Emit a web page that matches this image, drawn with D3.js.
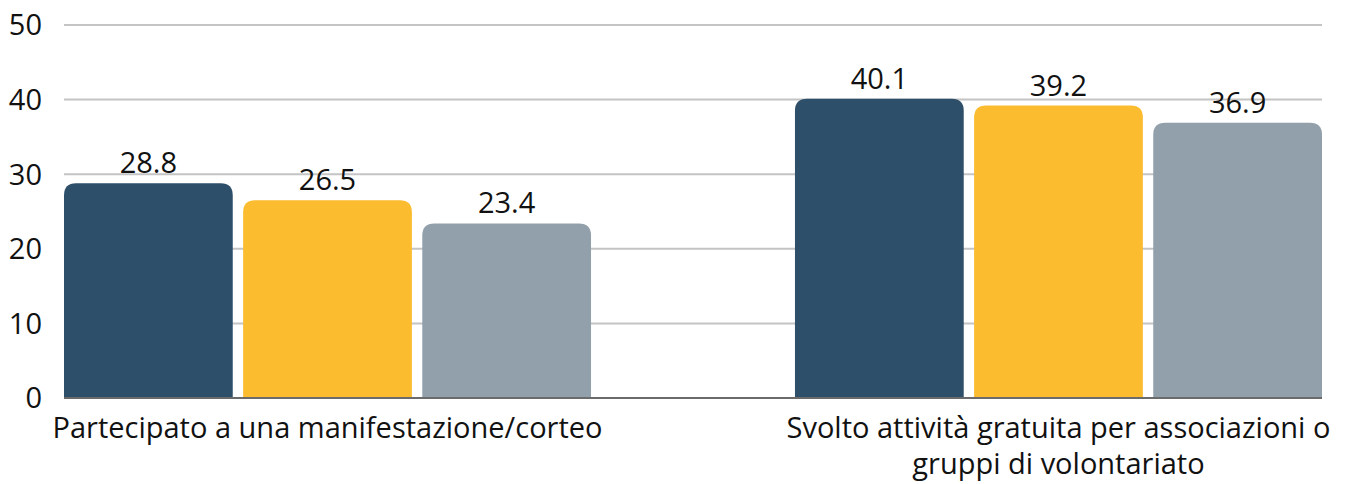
<!DOCTYPE html>
<html>
<head>
<meta charset="utf-8">
<script src="https://cdn.jsdelivr.net/npm/d3@7/dist/d3.min.js"></script>
<style>
  body { margin: 0; background: #fff; }
  text { font-family: "Open Sans", "Noto Sans", sans-serif; fill: #111; }
</style>
</head>
<body>
<div id="chart"></div>
<script>
const categories = [
  ['Partecipato a una manifestazione/corteo'],
  ['Svolto attività gratuita per associazioni o', 'gruppi di volontariato']
];
const seriesNames = ['s1', 's2', 's3'];
const seriesValues = [
  [28.8, 26.5, 23.4],
  [40.1, 39.2, 36.9]
];
const colors = ['#2e4f69', '#fbbc30', '#91a0ab'];
const yTicks = [0, 10, 20, 30, 40, 50];

const width = 1349, height = 484;
const margin = { top: 25, right: 27, bottom: 86, left: 64 };
const fontSize = 29;

const svg = d3.select('#chart').append('svg')
  .attr('width', width)
  .attr('height', height);

const x0 = d3.scaleBand()
  .domain(d3.range(categories.length))
  .range([margin.left, width - margin.right])
  .paddingInner(0.279)
  .paddingOuter(0);

const x1 = d3.scaleBand()
  .domain(d3.range(seriesNames.length))
  .range([0, x0.bandwidth()])
  .paddingInner(0.058);

const y = d3.scaleLinear()
  .domain([0, 50])
  .range([height - margin.bottom, margin.top]);

// grid
svg.append('g')
  .selectAll('line')
  .data(yTicks.filter(d => d > 0))
  .join('line')
  .attr('x1', margin.left)
  .attr('x2', width - margin.right)
  .attr('y1', d => y(d))
  .attr('y2', d => y(d))
  .attr('stroke', '#c4c4c4')
  .attr('stroke-width', 2);

// y labels
svg.append('g')
  .selectAll('text')
  .data(yTicks)
  .join('text')
  .attr('x', 42)
  .attr('y', d => y(d))
  .attr('dy', '0.36em')
  .attr('text-anchor', 'end')
  .attr('font-size', fontSize)
  .text(d => d);

// bars
const r = 12;
function topRounded(x, yTop, w, h) {
  const rr = Math.min(r, h, w / 2);
  return `M${x},${yTop + h}V${yTop + rr}Q${x},${yTop} ${x + rr},${yTop}` +
    `H${x + w - rr}Q${x + w},${yTop} ${x + w},${yTop + rr}V${yTop + h}Z`;
}

const groups = svg.append('g')
  .selectAll('g')
  .data(seriesValues)
  .join('g')
  .attr('transform', (d, i) => `translate(${x0(i)},0)`);

groups.selectAll('path')
  .data(d => d)
  .join('path')
  .attr('d', (d, j) => topRounded(x1(j), y(d), x1.bandwidth(), y(0) - y(d)))
  .attr('fill', (d, j) => colors[j]);

groups.selectAll('text')
  .data(d => d)
  .join('text')
  .attr('x', (d, j) => x1(j) + x1.bandwidth() / 2)
  .attr('y', d => y(d) - 10)
  .attr('text-anchor', 'middle')
  .attr('font-size', fontSize)
  .text(d => d.toFixed(1));

// baseline
svg.append('line')
  .attr('x1', margin.left)
  .attr('x2', width - margin.right)
  .attr('y1', y(0))
  .attr('y2', y(0))
  .attr('stroke', '#6b6b6b')
  .attr('stroke-width', 2);

// category labels
svg.append('g')
  .selectAll('text')
  .data(categories)
  .join('text')
  .attr('x', (d, i) => x0(i) + x0.bandwidth() / 2)
  .attr('y', 438)
  .attr('text-anchor', 'middle')
  .attr('font-size', fontSize)
  .selectAll('tspan')
  .data(d => d)
  .join('tspan')
  .attr('x', function () { return this.parentNode.getAttribute('x'); })
  .attr('dy', (d, k) => k === 0 ? 0 : 36)
  .text(d => d);
</script>
</body>
</html>
